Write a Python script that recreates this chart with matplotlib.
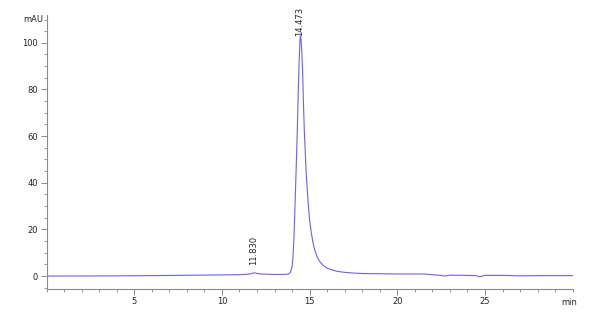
import matplotlib
matplotlib.use("Agg")
import matplotlib.pyplot as plt
from matplotlib.ticker import MultipleLocator

# Chromatogram (time in min, signal in mAU)
time_min = [0.0, 2.0, 4.0, 6.0, 8.0, 10.0, 11.0, 11.5, 11.7, 11.83, 12.0, 12.2, 12.5,
            13.0, 13.5, 13.8, 13.9, 14.0, 14.05, 14.1, 14.15, 14.2, 14.25, 14.3, 14.35,
            14.4, 14.45, 14.473, 14.5, 14.55, 14.6, 14.65, 14.7, 14.8, 14.9, 15.0,
            15.1, 15.2, 15.3, 15.4, 15.5, 15.6, 15.8, 16.0, 16.3, 16.6, 17.0, 17.5,
            18.0, 19.0, 20.0, 21.0, 21.5, 22.0, 22.5, 22.7, 23.0, 24.0, 24.5, 24.7,
            25.0, 26.0, 27.0, 28.0, 29.0, 30.0]
signal_mau = [0.0, 0.05, 0.1, 0.2, 0.35, 0.5, 0.6, 0.8, 1.1, 1.4, 1.2, 0.9, 0.8,
              0.7, 0.7, 0.9, 1.5, 4.0, 8.0, 15.0, 26.0, 38.0, 50.0, 63.0, 78.0,
              91.0, 101.0, 103.0, 102.5, 97.0, 88.0, 74.0, 62.0, 45.0, 33.0, 24.0,
              18.5, 14.0, 11.0, 8.8, 7.2, 6.0, 4.4, 3.4, 2.6, 2.0, 1.6, 1.3,
              1.1, 1.0, 0.9, 0.9, 0.9, 0.6, 0.3, 0.0, 0.4, 0.3, 0.2, -0.3,
              0.3, 0.3, 0.1, 0.2, 0.2, 0.2]

peak_times = [11.830, 14.473]
peak_heights = [1.4, 103.0]
peak_labels = ["11.830", "14.473"]

x_ticks = [5, 10, 15, 20, 25]
y_ticks = [0, 20, 40, 60, 80, 100]

fig = plt.figure(figsize=(6.0, 3.14), dpi=100)
ax = fig.add_axes([0.0775, 0.0806, 0.877, 0.8714])

line_color = "#6a62f0"
axis_color = "#8a8a8a"
text_color = "#222222"

ax.plot(time_min, signal_mau, color=line_color, linewidth=0.8)

ax.set_xlim(0, 30)
ax.set_ylim(-5.4, 111.9)

for side in ("top", "right"):
    ax.spines[side].set_visible(False)
for side in ("left", "bottom"):
    ax.spines[side].set_color(axis_color)
    ax.spines[side].set_linewidth(0.8)

ax.set_xticks(x_ticks)
ax.set_yticks(y_ticks)
ax.xaxis.set_minor_locator(MultipleLocator(1))
ax.yaxis.set_minor_locator(MultipleLocator(5))
ax.tick_params(axis="both", which="major", direction="out", length=4, width=0.7,
               color=axis_color, labelsize=6, labelcolor=text_color, pad=2)
ax.tick_params(axis="both", which="minor", direction="out", length=2, width=0.6,
               color=axis_color)

ax.text(-0.006, 0.985, "mAU", transform=ax.transAxes, ha="right", va="center",
        fontsize=6, color=text_color)
ax.text(0.993, -0.035, "min", transform=ax.transAxes, ha="center", va="top",
        fontsize=6, color=text_color)

offsets = [3.5, 0.0]
for t, h, lab, off in zip(peak_times, peak_heights, peak_labels, offsets):
    ax.text(t - 0.05, h + off, lab, rotation=90, ha="center", va="bottom",
            fontsize=6, color=text_color)

fig.savefig("out.png", dpi=100)
